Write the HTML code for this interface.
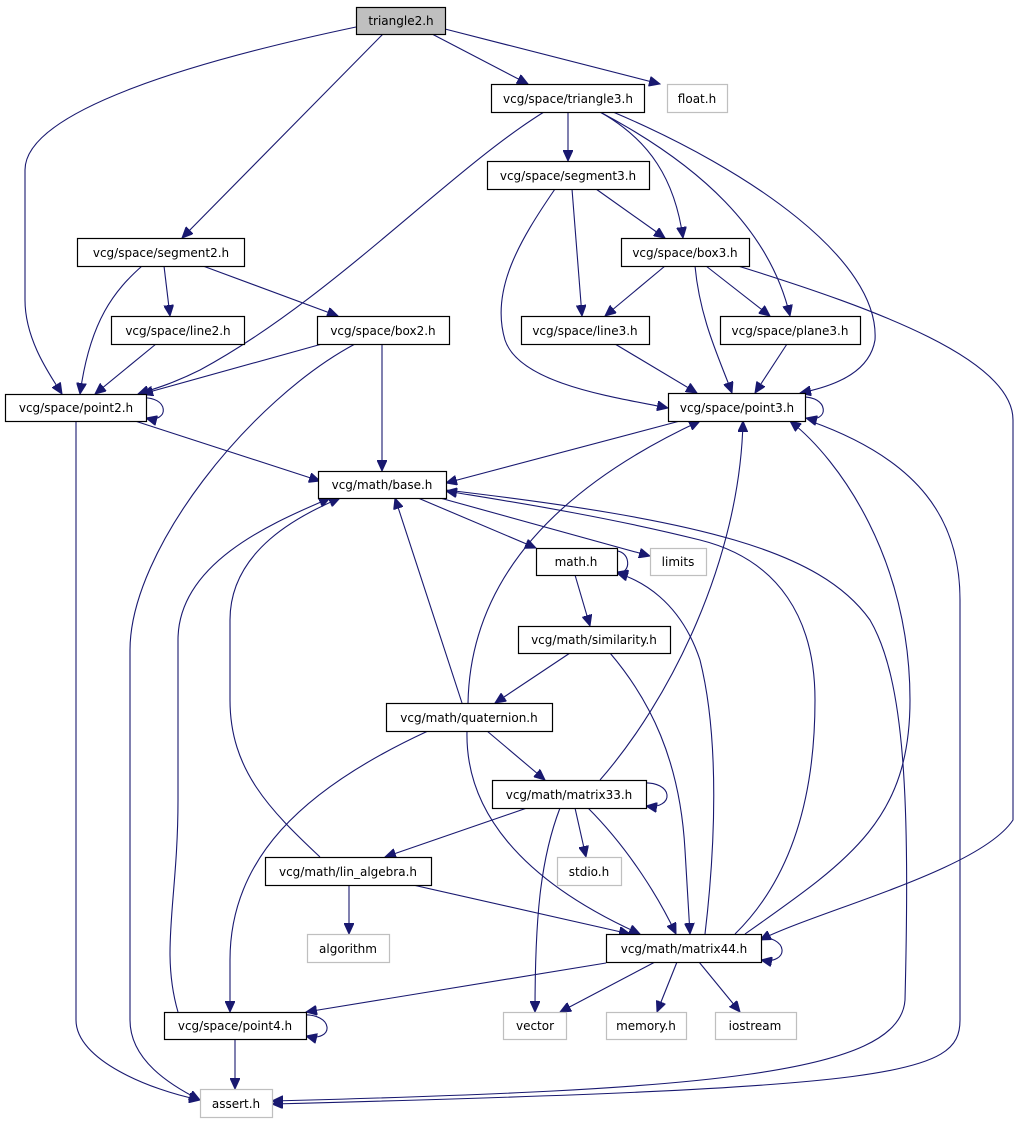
<!DOCTYPE html>
<html><head><meta charset="utf-8"><style>
html,body{margin:0;padding:0;background:#fff;}
svg{display:block;}
text{font-family:"DejaVu Sans","Liberation Sans",sans-serif;font-size:12px;fill:#000;}
</style></head><body>
<svg width="1019" height="1123" viewBox="0 0 1019 1123" xmlns="http://www.w3.org/2000/svg">
<defs>
<marker id="a" markerUnits="userSpaceOnUse" markerWidth="12" markerHeight="10" refX="11" refY="5" orient="auto">
<path d="M0,0 L11,5 L0,10 Z" fill="#191970" stroke="#191970"/>
</marker>
</defs>
<g fill="none" stroke="#191970" stroke-width="1.1" marker-end="url(#a)">
<path d="M356,27 C200,60 25,110 25,170 L25,300 C25,340 50,375 62,394"/>
<path d="M383,34 L182,238"/>
<path d="M432,34 L528,84"/>
<path d="M445,29 L660,84"/>
<path d="M544,112 C450,170 330,300 200,370 C170,385 150,390 138,394"/>
<path d="M568,112 L568,161"/>
<path d="M600,112 C650,140 675,180 683,238"/>
<path d="M600,112 C700,165 770,230 790,316"/>
<path d="M613,112 C750,170 880,260 875,340 C870,370 840,385 800,393"/>
<path d="M142,266 C115,290 90,320 80,394"/>
<path d="M164,266 L170,316"/>
<path d="M203,266 L338,316"/>
<path d="M156,344 L95,394"/>
<path d="M322,344 L142,394"/>
<path d="M355,344 C250,400 130,550 130,650 L130,1020 C130,1060 170,1085 200,1100"/>
<path d="M382,344 L382,471"/>
<path d="M140,398 C170,395 170,424 146,418"/>
<path d="M135,421 L320,481"/>
<path d="M76,421 L76,1020 C76,1060 150,1090 200,1100"/>
<path d="M555,189 C520,240 490,290 505,340 C520,385 620,398 668,408"/>
<path d="M572,189 L582,316"/>
<path d="M596,189 L665,238"/>
<path d="M665,266 L605,316"/>
<path d="M695,266 C700,320 720,360 732,393"/>
<path d="M706,266 L770,316"/>
<path d="M738,266 C880,310 1013,360 1013,420 L1013,820 C980,870 820,910 760,940"/>
<path d="M615,344 L697,393"/>
<path d="M787,344 L755,393"/>
<path d="M800,397 C830,395 830,424 806,418"/>
<path d="M680,421 L446,483"/>
<path d="M810,421 C920,460 960,520 960,600 L960,1020 C960,1075 900,1088 272,1104"/>
<path d="M418,498 L536,548"/>
<path d="M440,498 L650,556"/>
<path d="M446,490 C700,520 820,550 870,620 C905,680 910,800 905,1000 C900,1075 700,1090 272,1101"/>
<path d="M735,934 C790,880 815,800 815,700 C815,620 780,560 700,540 C600,515 500,500 446,491"/>
<path d="M612,551 C632,548 632,576 617,572"/>
<path d="M575,575 L590,626"/>
<path d="M705,934 C715,850 720,740 700,660 C680,600 640,580 617,573"/>
<path d="M610,653 C650,700 680,760 685,850 L690,934"/>
<path d="M570,653 L495,703"/>
<path d="M462,703 L395,498"/>
<path d="M468,703 C470,600 530,500 700,421"/>
<path d="M487,731 L545,780"/>
<path d="M467,731 C465,810 520,880 640,934"/>
<path d="M428,731 C300,790 230,860 230,960 L230,1012"/>
<path d="M600,780 C670,700 740,560 743,421"/>
<path d="M640,783 C675,780 675,810 646,806"/>
<path d="M527,808 L385,857"/>
<path d="M575,808 L586,857"/>
<path d="M560,808 C540,860 535,920 535,1012"/>
<path d="M588,808 C630,850 660,900 676,934"/>
<path d="M320,857 C270,810 230,770 230,700 L230,620 C230,550 300,515 340,498"/>
<path d="M349,885 L349,934"/>
<path d="M413,885 L630,934"/>
<path d="M755,937 C790,935 790,965 761,960"/>
<path d="M606,963 L306,1012"/>
<path d="M655,962 L560,1012"/>
<path d="M677,962 L657,1012"/>
<path d="M699,962 L740,1012"/>
<path d="M745,934 C850,860 910,820 910,700 C910,560 840,460 790,421"/>
<path d="M300,1015 C335,1012 335,1043 306,1036"/>
<path d="M178,1012 C160,950 178,900 178,800 L178,640 C178,560 280,520 330,498"/>
<path d="M235,1039 L235,1089"/>
</g>
<g stroke-width="1.2">
<rect x="356.5" y="7.5" width="89" height="27" fill="#bfbfbf" stroke="#000"/>
<g fill="#fff" stroke="#000">
<rect x="77.5" y="238.5" width="167" height="28"/>
<rect x="111.5" y="316.5" width="133" height="28"/>
<rect x="317.5" y="316.5" width="132" height="28"/>
<rect x="5.5" y="394.5" width="141" height="27"/>
<rect x="491.5" y="84.5" width="153" height="28"/>
<rect x="487.5" y="161.5" width="162" height="28"/>
<rect x="621.5" y="238.5" width="128" height="28"/>
<rect x="521.5" y="316.5" width="128" height="28"/>
<rect x="720.5" y="316.5" width="140" height="28"/>
<rect x="668.5" y="393.5" width="137" height="28"/>
<rect x="318.5" y="471.5" width="128" height="27"/>
<rect x="536.5" y="548.5" width="81" height="27"/>
<rect x="518.5" y="626.5" width="152" height="27"/>
<rect x="386.5" y="703.5" width="166" height="28"/>
<rect x="492.5" y="780.5" width="154" height="28"/>
<rect x="265.5" y="857.5" width="166" height="28"/>
<rect x="606.5" y="934.5" width="155" height="28"/>
<rect x="164.5" y="1012.5" width="142" height="27"/>
</g>
<g fill="#fff" stroke="#bfbfbf">
<rect x="667.5" y="84.5" width="60" height="28"/>
<rect x="650.5" y="548.5" width="56" height="27"/>
<rect x="557.5" y="857.5" width="64" height="28"/>
<rect x="307.5" y="934.5" width="82" height="28"/>
<rect x="503.5" y="1012.5" width="63" height="27"/>
<rect x="606.5" y="1012.5" width="80" height="27"/>
<rect x="715.5" y="1012.5" width="81" height="27"/>
<rect x="200.5" y="1089.5" width="72" height="28"/>
</g>
</g>
<g text-anchor="middle">
<text x="401" y="25">triangle2.h</text>
<text x="161" y="257">vcg/space/segment2.h</text>
<text x="178" y="335">vcg/space/line2.h</text>
<text x="383" y="335">vcg/space/box2.h</text>
<text x="76" y="412">vcg/space/point2.h</text>
<text x="568" y="103">vcg/space/triangle3.h</text>
<text x="697" y="103">float.h</text>
<text x="568" y="180">vcg/space/segment3.h</text>
<text x="685" y="257">vcg/space/box3.h</text>
<text x="585" y="335">vcg/space/line3.h</text>
<text x="790" y="335">vcg/space/plane3.h</text>
<text x="737" y="412">vcg/space/point3.h</text>
<text x="382" y="489">vcg/math/base.h</text>
<text x="576" y="566">math.h</text>
<text x="678" y="566">limits</text>
<text x="594" y="644">vcg/math/similarity.h</text>
<text x="469" y="722">vcg/math/quaternion.h</text>
<text x="569" y="799">vcg/math/matrix33.h</text>
<text x="589" y="876">stdio.h</text>
<text x="348" y="876">vcg/math/lin_algebra.h</text>
<text x="348" y="953">algorithm</text>
<text x="684" y="953">vcg/math/matrix44.h</text>
<text x="235" y="1030">vcg/space/point4.h</text>
<text x="535" y="1030">vector</text>
<text x="646" y="1030">memory.h</text>
<text x="755" y="1030">iostream</text>
<text x="236" y="1108">assert.h</text>
</g>
</svg>
</body></html>
